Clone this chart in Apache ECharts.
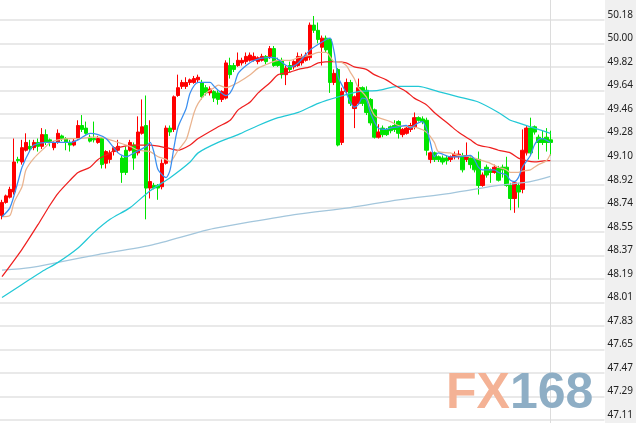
<!DOCTYPE html>
<html><head><meta charset="utf-8">
<script src="https://cdn.jsdelivr.net/npm/echarts@6/dist/echarts.min.js"></script>
<style>html,body{margin:0;padding:0;background:#fff}#c{width:636px;height:423px}</style>
</head><body><div id="c"></div>
<script>
// ---- candle data (open / close / low / high) ----
const openP = [48.68,48.78,48.82,48.86,49.11,49.09,49.18,49.21,49.20,49.24,
49.21,49.30,49.26,49.20,49.24,49.29,49.27,49.24,49.22,49.27,
49.37,49.35,49.28,49.27,49.24,49.27,49.08,49.11,49.17,49.18,
49.12,49.18,49.18,49.22,49.16,49.31,49.37,48.89,48.91,48.91,
48.90,49.08,49.35,49.34,49.60,49.67,49.67,49.70,49.70,49.72,
49.70,49.66,49.62,49.63,49.62,49.57,49.58,49.83,49.83,49.83,
49.85,49.86,49.87,49.87,49.86,49.87,49.90,49.90,49.96,49.87,
49.87,49.76,49.83,49.82,49.83,49.85,49.87,49.89,50.14,50.10,
49.97,50.04,50.03,49.70,49.80,49.24,49.63,49.70,49.50,49.54,
49.66,49.64,49.57,49.49,49.28,49.35,49.34,49.36,49.37,49.40,
49.30,49.31,49.34,49.36,49.43,49.42,49.41,49.11,49.16,49.13,
49.12,49.12,49.11,49.13,49.13,49.14,49.11,49.12,49.11,49.11,
48.91,49.05,49.03,49.01,49.04,49.05,49.05,48.91,48.81,48.91,
48.88,49.16,49.35,49.36,49.28,49.27,49.28,49.26];
const closeP = [48.78,48.83,48.88,49.09,49.10,49.20,49.24,49.19,49.24,49.21,
49.30,49.24,49.24,49.24,49.31,49.27,49.24,49.22,49.25,49.37,
49.34,49.31,49.25,49.26,49.27,49.07,49.17,49.16,49.20,49.21,
49.01,49.01,49.24,49.12,49.32,49.36,48.89,48.94,48.89,48.89,
49.08,49.35,49.32,49.59,49.66,49.70,49.70,49.72,49.73,49.74,
49.59,49.62,49.65,49.58,49.57,49.63,49.85,49.76,49.80,49.87,
49.87,49.90,49.91,49.90,49.89,49.90,49.86,49.96,49.83,49.83,
49.76,49.81,49.80,49.86,49.90,49.90,49.91,50.14,50.10,50.03,
50.04,49.95,49.70,49.77,49.22,49.63,49.70,49.54,49.59,49.66,
49.54,49.47,49.39,49.28,49.32,49.30,49.30,49.33,49.34,49.31,
49.34,49.35,49.37,49.43,49.41,49.40,49.18,49.16,49.11,49.11,
49.09,49.10,49.13,49.15,49.15,49.03,49.14,49.07,49.03,48.91,
48.99,48.99,49.01,49.05,48.95,49.03,48.91,48.81,48.93,48.86,
49.18,49.35,49.16,49.32,49.24,49.24,49.24,49.24];
const lowP = [48.65,48.77,48.81,48.84,49.08,49.07,49.17,49.17,49.18,49.17,
49.19,49.22,49.21,49.18,49.23,49.25,49.18,49.17,49.21,49.26,
49.32,49.30,49.24,49.24,49.23,49.04,49.04,49.08,49.14,49.16,
48.93,48.99,49.17,49.03,49.14,49.30,48.65,48.81,48.88,48.80,
48.88,49.07,49.29,49.32,49.59,49.65,49.65,49.68,49.69,49.70,
49.57,49.60,49.60,49.55,49.53,49.55,49.57,49.73,49.78,49.82,
49.83,49.84,49.86,49.86,49.84,49.86,49.84,49.88,49.82,49.82,
49.73,49.68,49.78,49.80,49.82,49.83,49.86,49.87,50.08,50.00,
49.83,49.93,49.62,49.68,49.21,49.22,49.61,49.52,49.35,49.53,
49.52,49.45,49.37,49.27,49.27,49.28,49.29,49.31,49.32,49.27,
49.28,49.30,49.32,49.34,49.40,49.38,49.14,49.08,49.09,49.09,
49.07,49.07,49.09,49.11,49.11,49.01,49.09,49.04,49.01,48.84,
48.90,48.97,48.93,49.00,48.94,48.97,48.90,48.72,48.70,48.74,
48.85,49.14,49.14,49.30,49.11,49.22,49.17,49.14];
const highP = [48.80,48.84,48.90,49.27,49.13,49.26,49.31,49.26,49.26,49.27,
49.35,49.34,49.27,49.25,49.34,49.30,49.28,49.26,49.27,49.41,
49.45,49.40,49.30,49.40,49.29,49.28,49.18,49.18,49.21,49.26,
49.14,49.21,49.26,49.24,49.44,49.57,49.60,49.41,48.93,48.92,
49.11,49.37,49.37,49.60,49.76,49.72,49.74,49.73,49.75,49.76,
49.72,49.68,49.67,49.64,49.64,49.64,49.87,49.89,49.85,49.93,
49.89,49.93,49.93,49.93,49.90,49.92,49.91,49.98,49.98,49.89,
49.89,49.83,49.86,49.87,49.93,49.92,49.93,50.16,50.21,50.16,
50.06,50.06,50.04,49.80,49.81,49.66,49.73,49.72,49.60,49.73,
49.67,49.67,49.58,49.50,49.38,49.37,49.35,49.37,49.41,49.41,
49.35,49.37,49.39,49.47,49.44,49.44,49.43,49.17,49.17,49.14,
49.14,49.14,49.14,49.17,49.18,49.16,49.24,49.14,49.12,49.17,
49.01,49.07,49.04,49.07,49.06,49.07,49.13,48.93,48.94,48.93,
49.34,49.37,49.43,49.37,49.30,49.33,49.35,49.33];

// ---- moving averages: [candle index, value] ----
const maBlue = [[0,48.67],[2,48.74],[4,48.94],[5,49.05],[7,49.18],[8,49.22],[11,49.24],[13,49.24],[17,49.24],[19,49.26],
[22,49.31],[24,49.30],[26,49.27],[29,49.16],[31,49.13],[33,49.16],[36,49.21],[37,49.24],[38,49.16],[39,49.03],
[41,48.97],[42,49.03],[43,49.21],[44,49.36],[46,49.50],[47,49.62],[49,49.70],[52,49.70],[53,49.67],[54,49.64],
[56,49.60],[57,49.62],[58,49.68],[59,49.77],[61,49.83],[63,49.87],[66,49.89],[68,49.89],[71,49.83],[72,49.82],
[74,49.85],[77,49.95],[81,50.03],[82,50.04],[83,49.93],[84,49.74],[86,49.62],[87,49.55],[88,49.51],[89,49.53],
[90,49.58],[91,49.57],[92,49.47],[94,49.35],[96,49.34],[97,49.35],[99,49.36],[101,49.37],[102,49.35],[103,49.37],
[104,49.39],[105,49.40],[106,49.35],[107,49.24],[108,49.13],[109,49.16],[112,49.13],[114,49.13],[117,49.14],[118,49.11],
[119,49.05],[120,49.03],[123,49.03],[124,49.01],[126,48.99],[127,48.95],[128,48.94],[129,48.97],[130,49.05],[132,49.14],
[133,49.22],[134,49.26],[135,49.27],[137,49.24]];
const maTan = [[0,48.67],[2,48.68],[3,48.78],[5,48.90],[6,49.03],[8,49.12],[11,49.21],[12,49.24],[14,49.26],[17,49.27],
[19,49.27],[23,49.28],[26,49.27],[29,49.24],[32,49.21],[34,49.18],[37,49.17],[39,49.13],[41,49.11],[42,49.09],
[43,49.13],[44,49.18],[46,49.26],[47,49.36],[48,49.47],[49,49.54],[51,49.62],[52,49.64],[53,49.66],[54,49.68],
[56,49.66],[57,49.67],[59,49.70],[62,49.76],[64,49.81],[67,49.85],[69,49.87],[72,49.87],[74,49.89],[77,49.91],
[79,49.93],[81,49.93],[83,49.86],[84,49.86],[86,49.83],[87,49.78],[88,49.73],[89,49.66],[91,49.59],[92,49.51],
[93,49.45],[94,49.43],[97,49.40],[99,49.37],[102,49.36],[104,49.35],[106,49.32],[108,49.24],[109,49.17],[112,49.16],
[114,49.14],[117,49.13],[119,49.11],[122,49.08],[124,49.05],[126,49.03],[127,49.01],[129,49.01],[130,49.02],[132,49.03],
[133,49.05],[134,49.07],[136,49.10],[137,49.15]];
const maRed = [[0,48.21],[5,48.42],[9,48.61],[12,48.76],[14,48.85],[17,48.95],[19,49.01],[22,49.05],[24,49.11],[27,49.16],
[29,49.20],[33,49.22],[37,49.22],[41,49.20],[44,49.18],[47,49.22],[49,49.27],[54,49.36],[57,49.41],[59,49.49],
[62,49.55],[64,49.62],[67,49.70],[69,49.76],[72,49.78],[74,49.80],[77,49.82],[79,49.85],[83,49.86],[86,49.85],
[88,49.82],[91,49.80],[93,49.76],[96,49.72],[98,49.68],[101,49.63],[103,49.58],[106,49.53],[108,49.47],[112,49.37],
[114,49.32],[117,49.26],[119,49.22],[122,49.20],[124,49.18],[127,49.16],[129,49.12],[131,49.10],[133,49.09],[136,49.10],
[137,49.10]];
const maCyan = [[0,48.05],[5,48.15],[10,48.25],[14,48.32],[19,48.43],[23,48.55],[27,48.65],[32,48.74],[37,48.87],[42,48.97],
[47,49.09],[49,49.16],[54,49.24],[59,49.30],[64,49.37],[69,49.43],[74,49.47],[79,49.54],[84,49.59],[89,49.63],
[94,49.64],[99,49.67],[102,49.67],[104,49.67],[109,49.63],[114,49.59],[119,49.55],[124,49.47],[127,49.41],[129,49.39],
[132,49.36],[134,49.34],[137,49.31]];
const maPale = [[0,48.26],[7,48.28],[14,48.32],[24,48.38],[37,48.45],[49,48.55],[53,48.58],[62,48.63],[74,48.69],[87,48.74],
[99,48.80],[112,48.85],[124,48.91],[132,48.94],[137,48.98]];

// ---- axis settings ----
const yStep = 0.180501;           // label step
const yMin = 47.110761;            // 261 * yStep
const yMax = 50.179278;            // 278 * yStep
const slotCount = 151;             // candle slots incl. empty right margin
const categories = Array.from({length: slotCount}, (_, i) => String(i + 1));

const candles = openP.map((o, i) => [o, closeP[i], lowP[i], highP[i]]);

const chart = echarts.init(document.getElementById('c'), null, {renderer: 'canvas'});
function lineSeries(name, data, color) {
  return {name, type: 'line', data, showSymbol: false, symbol: 'none', smooth: 0.25,
    lineStyle: {color, width: 1.25}, z: 3, silent: true};
}
const option = {
  animation: false,
  backgroundColor: '#ffffff',
  grid: {left: 0, right: 31, top: 20, bottom: 3, containLabel: false},
  xAxis: {type: 'category', data: categories, boundaryGap: true, show: false},
  yAxis: {
    type: 'value', position: 'right', min: yMin, max: yMax, interval: yStep, scale: true,
    axisLine: {show: false}, axisTick: {show: false},
    splitLine: {show: true, lineStyle: {color: '#e9e9e9', width: 2}},
    axisLabel: {show: true, margin: 3, color: '#222', fontSize: 10, fontFamily: '"Noto Sans", sans-serif',
      verticalAlign: 'bottom', showMinLabel: true, showMaxLabel: true,
      formatter: v => v.toFixed(2)}
  },
  graphic: [
    {id: 'strip', type: 'rect', left: 605, top: 0, z: -10, shape: {width: 31, height: 423}, style: {fill: '#f0f0f0'}},
    {id: 'wm', type: 'text', left: 446, top: 369, z: 50, style: {
      text: '{a|FX}{b|168}',
      rich: {
        a: {fontSize: 50, fontWeight: 'bold', fontFamily: '"Liberation Sans", sans-serif', fill: '#f4b295'},
        b: {fontSize: 50, fontWeight: 'bold', fontFamily: '"Liberation Sans", sans-serif', fill: '#8eaec5'}
      }}}
  ],
  series: [
    {type: 'candlestick', data: candles, barWidth: 4, z: 2,
      itemStyle: {color: '#ff0000', color0: '#00e400', borderColor: '#ff0000', borderColor0: '#00e400', borderWidth: 1}},
    lineSeries('pale', maPale, '#a3c6dc'),
    lineSeries('cyan', maCyan, '#22c8d6'),
    lineSeries('red', maRed, '#ef2020'),
    lineSeries('tan', maTan, '#eab38e'),
    lineSeries('blue', maBlue, '#3a8ff0')
  ]
};
chart.setOption(option);
const vx = Math.round(chart.convertToPixel({xAxisIndex: 0}, openP.length - 1)) + 0.5;
chart.setOption({graphic: [{id: 'vline', type: 'line', z: 1, shape: {x1: vx, y1: 0, x2: vx, y2: 423},
  style: {stroke: '#dcdcdc', lineWidth: 1}}]});
</script></body></html>
